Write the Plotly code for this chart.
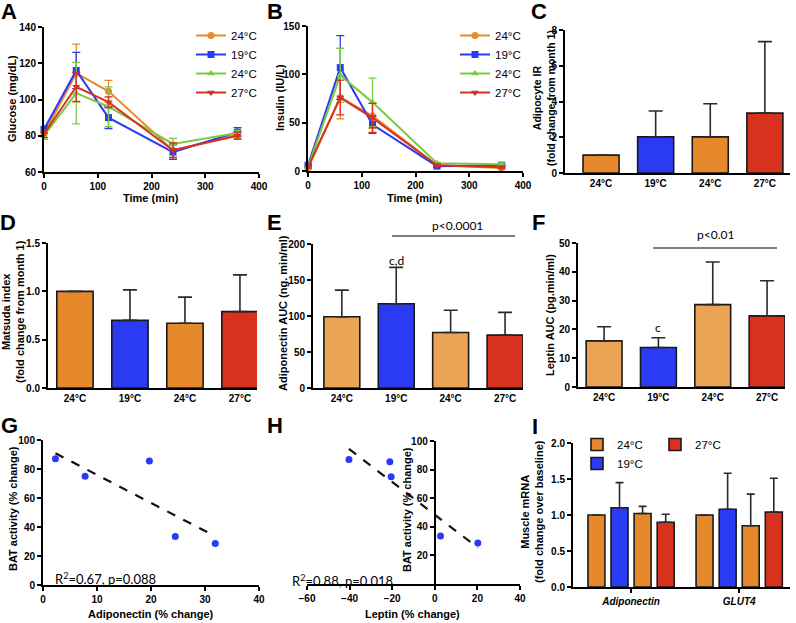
import numpy as np
import plotly.graph_objects as go

W, H = 796, 623

def px_x(x):
    return x / W

def px_y(y):
    return 1 - y / H

# ---------------- data ----------------
time_min = [0, 60, 120, 240, 360]
group_names = ['24°C', '19°C', '24°C', '27°C']

glucose_24a = [81, 114.5, 104.5, 72, 80.5]
glucose_24a_err = [2, 16, 6, 4, 2]
glucose_19 = [83.5, 116, 90, 71, 82]
glucose_19_err = [2, 10, 6, 4, 2.5]
glucose_24b = [80, 103.5, 96, 75.5, 81.5]
glucose_24b_err = [2, 17, 11, 3, 1.5]
glucose_27 = [81, 107, 98.5, 72, 80]
glucose_27_err = [2, 8, 3, 4, 2]

insulin_24a = [3, 76, 57, 6, 3]
insulin_24a_err = [1, 22, 13, 1, 1]
insulin_19 = [6, 107, 48, 5, 6]
insulin_19_err = [1, 33, 9, 1, 1]
insulin_24b = [4, 99, 71, 8, 7]
insulin_24b_err = [1, 28, 25, 1, 1]
insulin_27 = [4, 76, 55, 6, 4]
insulin_27_err = [1, 18, 15, 1, 1]

adipocyte_ir = [1.0, 2.02, 2.02, 3.35]
adipocyte_ir_err = [0, 1.45, 1.85, 4.0]
matsuda = [1.0, 0.70, 0.67, 0.79]
matsuda_err = [0, 0.315, 0.27, 0.38]
adiponectin_auc = [99, 117, 77, 73.5]
adiponectin_auc_err = [37, 50.5, 31, 31.5]
leptin_auc = [16, 13.7, 28.6, 24.7]
leptin_auc_err = [4.9, 3.4, 14.8, 12.2]

bat_activity = [87, 75, 85.5, 33.5, 28.7]
adiponectin_change = [2.3, 7.8, 19.7, 24.5, 31.9]
leptin_change = [-40.3, -20.5, -21.1, 2.7, 20.2]

genes = ['Adiponectin', 'GLUT4']
mrna_24a = [1.0, 1.0]
mrna_24a_err = [0, 0]
mrna_19 = [1.10, 1.08]
mrna_19_err = [0.35, 0.50]
mrna_24b = [1.02, 0.85]
mrna_24b_err = [0.10, 0.44]
mrna_27 = [0.90, 1.04]
mrna_27_err = [0.11, 0.47]

# ---------------- styles ----------------
ORANGE = '#E5892C'
ORANGE_L = '#E9A553'
BLUE = '#2A3CF3'
GREEN = '#7BC943'
RED = '#D8321E'
LINE_COLORS = [ORANGE, BLUE, GREEN, RED]
LINE_SYMBOLS = ['circle', 'square', 'triangle-up', 'triangle-down']
BAR_COLORS = [ORANGE, BLUE, ORANGE, RED]
BAR_COLORS_L = [ORANGE_L, BLUE, ORANGE_L, RED]

FONT = 'Liberation Sans'
TICKFONT = dict(family=FONT, size=10, color='black', weight='bold')

fig = go.Figure()

# ---- A & B: line charts ----
glucose_sets = [(glucose_24a, glucose_24a_err), (glucose_19, glucose_19_err),
                (glucose_24b, glucose_24b_err), (glucose_27, glucose_27_err)]
insulin_sets = [(insulin_24a, insulin_24a_err), (insulin_19, insulin_19_err),
                (insulin_24b, insulin_24b_err), (insulin_27, insulin_27_err)]

for sets, xa, ya, leg in [(glucose_sets, 'x', 'y', 'legend'), (insulin_sets, 'x2', 'y2', 'legend2')]:
    for i, (vals, err) in enumerate(sets):
        fig.add_trace(go.Scatter(
            x=time_min, y=vals, xaxis=xa, yaxis=ya, name=group_names[i], legend=leg,
            mode='lines+markers', cliponaxis=False,
            line=dict(color=LINE_COLORS[i], width=2),
            marker=dict(color=LINE_COLORS[i], symbol=LINE_SYMBOLS[i], size=7),
            error_y=dict(type='data', array=err, color=LINE_COLORS[i], thickness=1.3, width=4),
        ))

# ---- C, D, E, F: bar charts ----
idx = list(range(len(group_names)))
bar_sets = [
    (adipocyte_ir, adipocyte_ir_err, 'x3', 'y3', BAR_COLORS),
    (matsuda, matsuda_err, 'x4', 'y4', BAR_COLORS),
    (adiponectin_auc, adiponectin_auc_err, 'x5', 'y5', BAR_COLORS_L),
    (leptin_auc, leptin_auc_err, 'x6', 'y6', BAR_COLORS_L),
]
for vals, err, xa, ya, cols in bar_sets:
    fig.add_trace(go.Bar(
        x=idx, y=vals, xaxis=xa, yaxis=ya, showlegend=False, width=0.66,
        marker=dict(color=cols, line=dict(color='#1a1a1a', width=1.6)),
        error_y=dict(type='data', array=err, arrayminus=[0] * len(err), symmetric=False,
                     color='#2a2a2a', thickness=1.6, width=7),
    ))

# ---- G, H: scatter with fits ----
for xs, xa, ya in [(adiponectin_change, 'x7', 'y7'), (leptin_change, 'x8', 'y8')]:
    slope, intercept = np.polyfit(xs, bat_activity, 1)
    xfit = [min(xs), max(xs)]
    fig.add_trace(go.Scatter(
        x=xfit, y=[slope * v + intercept for v in xfit], xaxis=xa, yaxis=ya,
        mode='lines', showlegend=False, line=dict(color='#111', width=2.2, dash='dash'),
    ))
    fig.add_trace(go.Scatter(
        x=xs, y=bat_activity, xaxis=xa, yaxis=ya, mode='markers', showlegend=False,
        cliponaxis=False, marker=dict(color=BLUE, size=7),
    ))

# ---- I: grouped bars ----
mrna_sets = [(mrna_24a, mrna_24a_err, ORANGE, '24°C', True, 'legend3'),
             (mrna_19, mrna_19_err, BLUE, '19°C', True, 'legend3'),
             (mrna_24b, mrna_24b_err, ORANGE, '24°C', False, 'legend3'),
             (mrna_27, mrna_27_err, RED, '27°C', True, 'legend4')]
bw = 0.157
step = 0.2135
for k, (vals, err, col, name, sl, leg) in enumerate(mrna_sets):
    center = (k - 1.5) * step
    fig.add_trace(go.Bar(
        x=genes, y=vals, xaxis='x9', yaxis='y9', name=name, showlegend=sl, legend=leg,
        width=bw, offset=center - bw / 2,
        marker=dict(color=col, line=dict(color='#1a1a1a', width=1.6)),
        error_y=dict(type='data', array=err, arrayminus=[0] * len(err), symmetric=False,
                     color='#2a2a2a', thickness=1.6, width=4),
    ))

# ---------------- axes ----------------
def ax(**kw):
    d = dict(showline=True, linecolor='black', linewidth=2, ticks='outside', ticklen=4,
             tickwidth=1.5, tickcolor='black', showgrid=False, zeroline=False,
             tickfont=TICKFONT, fixedrange=True)
    d.update(kw)
    return d

def dom_x(a, b):
    return [px_x(a), px_x(b)]

def dom_y(top, bottom):
    return [px_y(bottom), px_y(top)]

cat_ticks = dict(tickmode='array', tickvals=idx, ticktext=group_names, ticks='')

layout_axes = dict(
    xaxis=ax(domain=dom_x(44, 259), range=[0, 400], dtick=100, anchor='y'),
    yaxis=ax(domain=dom_y(27, 172), range=[60, 140], dtick=20, anchor='x'),
    xaxis2=ax(domain=dom_x(308, 523), range=[0, 400], dtick=100, anchor='y2'),
    yaxis2=ax(domain=dom_y(26, 171), range=[0, 150], dtick=50, anchor='x2'),
    xaxis3=ax(domain=dom_x(565, 790), range=[-0.66, 3.46], anchor='y3', **cat_ticks),
    yaxis3=ax(domain=dom_y(30, 173), range=[0, 8], dtick=2, anchor='x3'),
    xaxis4=ax(domain=dom_x(48, 257), range=[-0.49, 3.31], anchor='y4', **cat_ticks),
    yaxis4=ax(domain=dom_y(243, 388), range=[0, 1.5], dtick=0.5, tickformat='.1f', anchor='x4'),
    xaxis5=ax(domain=dom_x(313, 523), range=[-0.53, 3.33], anchor='y5', **cat_ticks),
    yaxis5=ax(domain=dom_y(244, 388), range=[0, 200], dtick=50, anchor='x5'),
    xaxis6=ax(domain=dom_x(578, 785), range=[-0.48, 3.33], anchor='y6', **cat_ticks),
    yaxis6=ax(domain=dom_y(243, 387), range=[0, 50], dtick=10, anchor='x6'),
    xaxis7=ax(domain=dom_x(43, 259), range=[0, 40], dtick=10, anchor='y7'),
    yaxis7=ax(domain=dom_y(440, 585), range=[0, 100], dtick=20, anchor='x7'),
    xaxis8=ax(domain=dom_x(307, 520), range=[-60, 40], dtick=20, anchor='y8'),
    yaxis8=ax(domain=dom_y(441, 584), range=[0, 100], tickvals=[20, 40, 60, 80, 100],
              anchor='free', position=px_x(307) + (0 - (-60)) / 100 * (px_x(520) - px_x(307))),
    xaxis9=ax(domain=dom_x(573, 790), range=[-0.537, 1.47], anchor='y9',
              tickfont=dict(family=FONT, size=10, color='black', weight='bold', style='italic')),
    yaxis9=ax(domain=dom_y(443, 587), range=[0, 2.0], dtick=0.5, tickformat='.1f', anchor='x9'),
)

# ---------------- annotations ----------------
ann = []

def text(x, y, s, size=11, bold=True, angle=0, xanchor='center', yanchor='middle',
         family=FONT, xref='paper', yref='paper'):
    ann.append(dict(
        x=px_x(x) if xref == 'paper' else x, y=px_y(y) if yref == 'paper' else y,
        xref=xref, yref=yref, text=s, showarrow=False, textangle=angle,
        xanchor=xanchor, yanchor=yanchor,
        font=dict(family=family, size=size, color='black', weight='bold' if bold else 'normal'),
    ))

for letter, (lx, ly) in zip('ABCDEFGHI', [(9, 12), (275, 12), (539, 12), (8, 222), (274, 222),
                                          (538, 222), (9, 425), (275, 425), (535, 426)]):
    text(lx, ly, letter, size=22)

# axis titles
text(12, 99, 'Glucose (mg/dL)', angle=-90)
text(151, 198, 'Time (min)')
text(280, 98, 'Insulin (IU/L)', angle=-90)
text(415, 198, 'Time (min)')
text(544, 98, 'Adipocyte IR<br>(fold change from month 1)', size=10.5, angle=-90)
text(13, 312, 'Matsuda index<br>(fold change from month 1)', angle=-90)
text(283, 313, 'Adiponectin AUC (ng. min/ml)', angle=-90)
text(550, 315, 'Leptin AUC (pg.min/ml)', angle=-90)
text(13, 509, 'BAT activity (% change)', angle=-90)
text(151, 614, 'Adiponectin (% change)')
text(407, 510, 'BAT activity (% change)', angle=-90)
text(412, 614, 'Leptin (% change)')
text(532, 512, 'Muscle mRNA<br>(fold change over baseline)', angle=-90)

# significance text
text(457, 226, 'p&lt;0.0001', size=12, bold=False, family='Lato')
text(715, 235, 'p&lt;0.01', size=12, bold=False, family='Lato')
text(1, 177, 'c,d', size=12, bold=False, family='Lato', xref='x5', yref='y5')
text(1, 20.5, 'c', size=12, bold=False, family='Lato', xref='x6', yref='y6')
text(53, 578, 'R<sup>2</sup>=0.67, p=0.088', size=13, bold=False, family='Lato', xanchor='left')
text(290, 580, 'R<sup>2</sup>=0.88, p=0.018', size=13, bold=False, family='Lato', xanchor='left')

shapes = [
    dict(type='line', xref='paper', yref='paper', x0=px_x(392), x1=px_x(515), y0=px_y(236), y1=px_y(236),
         line=dict(color='#555', width=1.5)),
    dict(type='line', xref='paper', yref='paper', x0=px_x(653), x1=px_x(777), y0=px_y(248), y1=px_y(248),
         line=dict(color='#555', width=1.5)),
]

legend_common = dict(bgcolor='rgba(0,0,0,0)', borderwidth=0, xanchor='left', yanchor='top',
                     font=dict(family=FONT, size=11.5, color='black'), tracegroupgap=0)

fig.update_layout(
    width=W, height=H, margin=dict(l=0, r=0, t=0, b=0, autoexpand=False),
    paper_bgcolor='white', plot_bgcolor='white',
    barmode='overlay',
    font=dict(family=FONT, color='black'),
    annotations=ann, shapes=shapes,
    legend=dict(x=px_x(191), y=px_y(21), **legend_common),
    legend2=dict(x=px_x(455), y=px_y(21), **legend_common),
    legend3=dict(x=px_x(577), y=px_y(430), **legend_common),
    legend4=dict(x=px_x(655), y=px_y(430), **legend_common),
    **layout_axes,
)

fig.write_html('out.html', config={'displayModeBar': False},
               post_script="document.body.style.margin='0';")
